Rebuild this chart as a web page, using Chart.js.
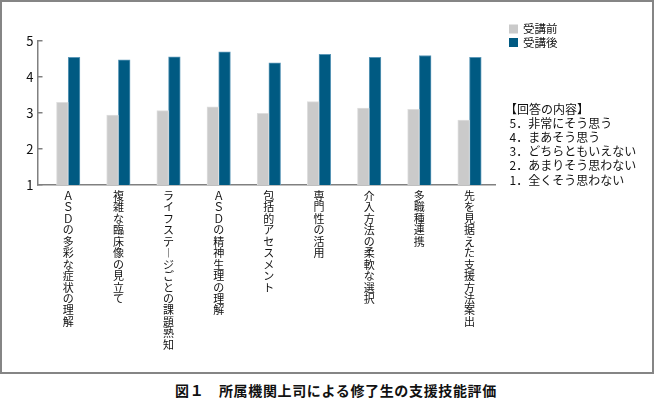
<!DOCTYPE html>
<html lang="ja">
<head>
<meta charset="utf-8">
<script src="https://cdn.jsdelivr.net/npm/chart.js@4.4.1/dist/chart.umd.min.js"></script>
<style>
    body { margin: 0; background: #fff; }
    #frame { position: absolute; left: 0; top: 0; width: 650px; height: 370px; border: 2px solid #858585; }
    #caption { position: absolute; left: 175px; top: 382px; font: bold 14px 'Noto Sans CJK JP', sans-serif; letter-spacing: 0.65px; line-height: 17px; white-space: nowrap; color: #111; }
</style>
</head>
<body>
<div id="frame"><canvas id="myChart" width="650" height="370"></canvas></div>
<div id="caption">図１　所属機関上司による修了生の支援技能評価</div>
<script>
// 項目名
const categories = [
    'ＡＳＤの多彩な症状の理解',
    '複雑な臨床像の見立て',
    'ライフステージごとの課題熟知',
    'ＡＳＤの精神生理の理解',
    '包括的アセスメント',
    '専門性の活用',
    '介入方法の柔軟な選択',
    '多職種連携',
    '先を見据えた支援方法案出'
];
const seriesNames = ['受講前', '受講後'];
const beforeValues = [3.29, 2.94, 3.06, 3.17, 2.99, 3.31, 3.13, 3.10, 2.80];
const afterValues = [4.54, 4.47, 4.55, 4.69, 4.39, 4.62, 4.54, 4.59, 4.54];
const yTicks = [1, 2, 3, 4, 5];
const answerNotes = [
    '【回答の内容】',
    '5．非常にそう思う',
    '4．まあそう思う',
    '3．どちらともいえない',
    '2．あまりそう思わない',
    '1．全くそう思わない'
];

const FONT = "'Noto Sans CJK JP', sans-serif";

// 縦書き風に1文字ずつ改行する (長音は縦用の字形に)
function toVertical(text) {
    return Array.from(text).map(c => c === 'ー' ? '︱' : c);
}

// 凡例と回答の内容を右側に描く
const notesPlugin = {
    id: 'notes',
    afterDraw(chart) {
        const ctx = chart.ctx;
        ctx.save();
        ctx.font = '11.5px ' + FONT;
        ctx.textBaseline = 'middle';
        ctx.textAlign = 'left';
        chart.data.datasets.forEach((ds, i) => {
            const y = 27 + i * 13.5;
            ctx.fillStyle = ds.backgroundColor;
            ctx.fillRect(507, y - 4.5, 9, 9);
            ctx.fillStyle = '#111';
            ctx.fillText(ds.label, 521, y);
        });
        ctx.font = '12px ' + FONT;
        answerNotes.forEach((t, i) => {
            ctx.fillText(t, i === 0 ? 503 : 507.5, 107 + i * 14.2);
        });
        ctx.restore();
    }
};

const toPoints = values => values.map((v, i) => ({ x: i, y: v }));

const chartConfig = {
    type: 'bar',
    data: {
        datasets: [
            {
                label: seriesNames[0],
                data: toPoints(beforeValues),
                backgroundColor: '#cacaca',
                borderColor: '#dedede',
                borderWidth: 1,
                borderSkipped: 'bottom',
                barThickness: 11.7
            },
            {
                label: seriesNames[1],
                data: toPoints(afterValues),
                backgroundColor: '#005a82',
                borderColor: '#5c98b8',
                borderWidth: 1,
                borderSkipped: 'bottom',
                barThickness: 11.7
            }
        ]
    },
    options: {
        responsive: false,
        animation: false,
        layout: { padding: { left: 15.3, top: 38.7, right: 157, bottom: 0 } },
        plugins: {
            legend: { display: false },
            tooltip: { enabled: false }
        },
        scales: {
            x: {
                type: 'linear',
                offset: false,
                min: -0.612,
                max: 8.508,
                // 縦書きラベルが長いので軸の高さを固定する
                afterFit: scale => { scale.height = 187; },
                grid: { display: false, drawTicks: false },
                border: { display: true, color: '#808080', width: 1.5 },
                ticks: {
                    stepSize: 1,
                    includeBounds: false,
                    autoSkip: false,
                    maxRotation: 0,
                    minRotation: 0,
                    padding: 5,
                    color: '#111',
                    font: { family: FONT, size: 11, lineHeight: 1.041 },
                    callback: v => categories[v] ? toVertical(categories[v]) : ''
                }
            },
            y: {
                min: 1,
                max: 5,
                afterBuildTicks: scale => { scale.ticks = yTicks.map(v => ({ value: v })); },
                grid: { display: true, drawOnChartArea: false, drawTicks: true, tickLength: -5, color: '#808080', lineWidth: 1.5 },
                border: { display: true, color: '#808080', width: 1.5 },
                ticks: {
                    padding: 9,
                    color: '#111',
                    font: { family: FONT, size: 13 }
                }
            }
        }
    },
    plugins: [notesPlugin]
};

new Chart(document.getElementById('myChart'), chartConfig);
</script>
</body>
</html>
